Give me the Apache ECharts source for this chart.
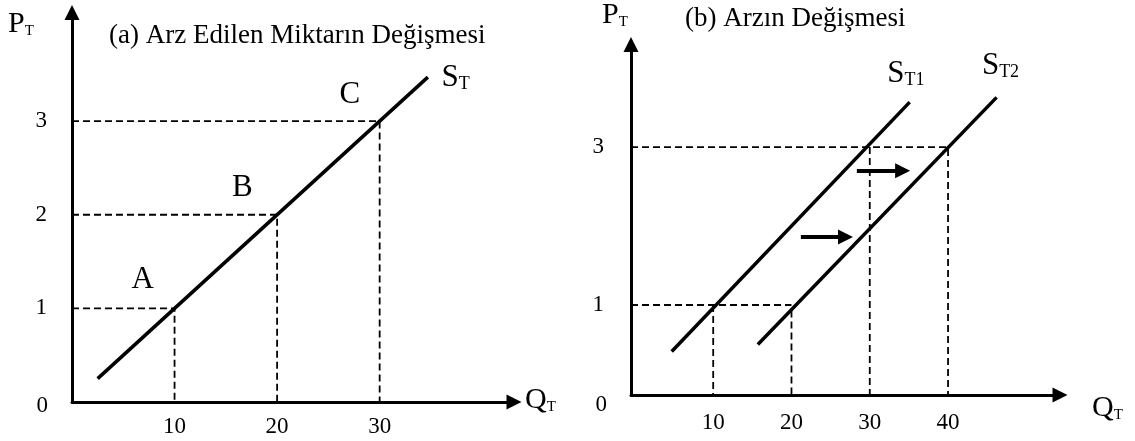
<!DOCTYPE html>
<html>
<head>
    <meta charset="utf-8">
    <title>Arz</title>
    <script src="https://cdn.jsdelivr.net/npm/echarts@6/dist/echarts.min.js"></script>
    <style>
        html, body { margin: 0; padding: 0; background: #fff; }
    </style>
</head>
<body>
    <div id="main" style="width: 1135px;height:441px;"></div>
    <script type="text/javascript">

var FONT = 'Liberation Serif';

// (a) arz edilen miktarin degismesi
var qTicksA = [10, 20, 30];
var pTicksA = [1, 2, 3];
var supplyA = [[2.5, 0.25], [34.7, 3.47]];
var pointNamesA = ['A', 'B', 'C'];
var pointPosA = [[6.9, 1.3], [16.6, 2.29], [27.1, 3.28]];

// (b) arzin degismesi
var qTicksB = [10, 20, 30, 40];
var pTicksB = [1, 3];
var supplyB1 = [[4.7, 0.41], [35.1, 3.57]];
var supplyB2 = [[15.7, 0.5], [46.2, 3.63]];
var shiftArrows = [
    [[21.2, 1.86], [26.9, 1.86]],
    [[28.35, 2.70], [34.2, 2.70]]
];

// axis ranges
var xMinA = 0, xMaxA = 43.1, yMinA = 0, yMaxA = 4.16;
var xMinB = -0.5, xMaxB = 54.3, yMinB = -0.14, yMaxB = 4.3;

// dashed guides, L shapes from the axes to the curves
var guidesA = qTicksA.map(function (q, i) {
    return [[xMinA, pTicksA[i]], [q, pTicksA[i]], [q, yMinA]];
});
var guidesB = [
    [[xMinB, 1], [20, 1]],
    [[10, 1], [10, yMinB]],
    [[20, 0.93], [20, yMinB]],
    [[xMinB, 3], [40, 3], [40, yMinB]],
    [[30, 3], [30, yMinB]]
];

var labelsA = pointNamesA.map(function (n, i) {
    return { name: n, value: pointPosA[i] };
});
labelsA.push({ name: 'S', sub: 'T', value: [37.4, 3.46] });
labelsA.push({ name: '0', small: true, value: [-2.9, -0.04] });

var labelsB = [
    { name: 'S', sub: 'T1', value: [34.6, 3.93] },
    { name: 'S', sub: 'T2', value: [46.7, 4.03] },
    { name: '0', small: true, value: [-4.3, -0.27] }
];

function axisX(grid, min, max, ticks, margin) {
    return {
        type: 'value', gridIndex: grid, min: min, max: max,
        axisLine: { onZero: false, symbol: ['none', 'triangle'], symbolSize: [15, 15],
            lineStyle: { color: '#000', width: 3 } },
        axisTick: { show: false },
        splitLine: { show: false },
        axisLabel: { customValues: ticks, color: '#000', fontFamily: FONT, fontSize: 23, margin: margin }
    };
}
function axisY(grid, min, max, ticks, margin) {
    return {
        type: 'value', gridIndex: grid, min: min, max: max,
        axisLine: { onZero: false, symbol: ['none', 'triangle'], symbolSize: [15, 15],
            lineStyle: { color: '#000', width: 3 } },
        axisTick: { show: false },
        splitLine: { show: false },
        axisLabel: { customValues: ticks, color: '#000', fontFamily: FONT, fontSize: 23, margin: margin }
    };
}

function solid(grid, data) {
    return { type: 'line', xAxisIndex: grid, yAxisIndex: grid, data: data, symbol: 'none',
        lineStyle: { color: '#000', width: 3.5 }, silent: true };
}
function dashed(grid, data) {
    return { type: 'line', xAxisIndex: grid, yAxisIndex: grid, data: data, symbol: 'none',
        lineStyle: { color: '#000', width: 1.8, type: [7, 4] }, silent: true };
}
function texts(grid, data) {
    return {
        type: 'scatter', xAxisIndex: grid, yAxisIndex: grid, data: data, clip: false,
        symbolSize: 1, itemStyle: { color: 'transparent', opacity: 1 }, silent: true,
        label: {
            show: true, position: 'inside', color: '#000', fontFamily: FONT, opacity: 1,
            textBorderWidth: 0,
            formatter: function (p) {
                if (p.data.sub) return '{m|' + p.data.name + '}{s|' + p.data.sub + '}';
                if (p.data.small) return '{n|' + p.data.name + '}';
                return '{m|' + p.data.name + '}';
            },
            rich: {
                m: { fontSize: 31, fontFamily: FONT, color: '#000' },
                s: { fontSize: 18, fontFamily: FONT, color: '#000', verticalAlign: 'bottom', lineHeight: 14 },
                n: { fontSize: 23, fontFamily: FONT, color: '#000' }
            }
        }
    };
}

function axisName(x, y, main, sub) {
    return {
        type: 'text', x: x, y: y, silent: true,
        style: {
            text: '{m|' + main + '}{s|' + sub + '}',
            rich: {
                m: { fontSize: 30, fontFamily: FONT, fill: '#000' },
                s: { fontSize: 15, fontFamily: FONT, fill: '#000', verticalAlign: 'bottom', lineHeight: 12 }
            }
        }
    };
}

var myChart = echarts.init(document.getElementById('main'));

var series = [];
guidesA.forEach(function (g) { series.push(dashed(0, g)); });
guidesB.forEach(function (g) { series.push(dashed(1, g)); });
series.push(solid(0, supplyA));
series.push(solid(1, supplyB1));
series.push(solid(1, supplyB2));
series.push({
    type: 'lines', coordinateSystem: 'cartesian2d', xAxisIndex: 1, yAxisIndex: 1,
    symbol: ['none', 'triangle'], symbolSize: 15, silent: true,
    lineStyle: { color: '#000', width: 4, opacity: 1 },
    data: shiftArrows.map(function (a) { return { coords: a }; })
});
series.push(texts(0, labelsA));
series.push(texts(1, labelsB));

var option = {
    animation: false,
    backgroundColor: '#fff',
    title: [
        { text: '(a) Arz Edilen Miktarın Değişmesi', left: 109, top: 22, padding: 0,
          textStyle: { fontFamily: FONT, fontSize: 27, fontWeight: 'normal', color: '#000' } },
        { text: '(b) Arzın Değişmesi', left: 685, top: 5, padding: 0,
          textStyle: { fontFamily: FONT, fontSize: 27, fontWeight: 'normal', color: '#000' } }
    ],
    grid: [
        { left: 72, top: 12.5, width: 442, height: 389.5 },
        { left: 631, top: 44.5, width: 429, height: 350.5 }
    ],
    xAxis: [axisX(0, xMinA, xMaxA, qTicksA, 13), axisX(1, xMinB, xMaxB, qTicksB, 16)],
    yAxis: [axisY(0, yMinA, yMaxA, pTicksA, 25), axisY(1, yMinB, yMaxB, pTicksB, 27)],
    graphic: [
        axisName(8, 9, 'P', 'T'),
        axisName(602, 0, 'P', 'T'),
        axisName(525, 385, 'Q', 'T'),
        axisName(1092, 393, 'Q', 'T')
    ],
    series: series
};

myChart.setOption(option);

    </script>
</body>
</html>
